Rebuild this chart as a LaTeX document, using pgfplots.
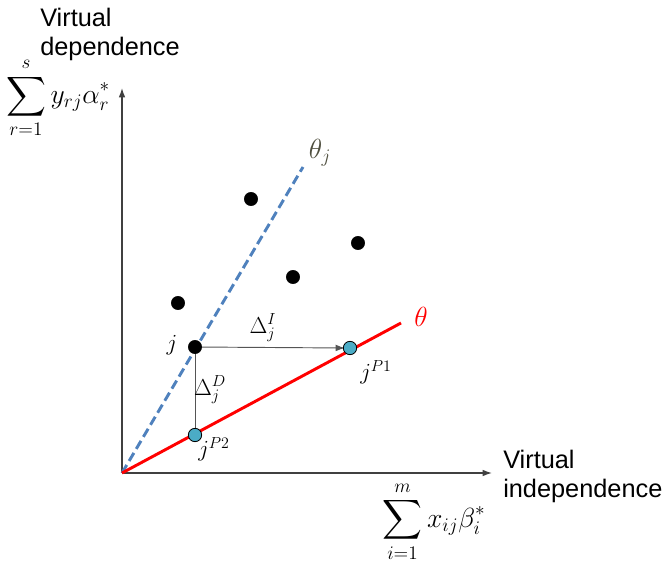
\documentclass[border=0pt]{standalone}
\usepackage{amsmath}
\usepackage{exscale}
\usepackage{pgfplots}
\pgfplotsset{compat=1.18}
\usepackage{fontspec}
\setmainfont{Liberation Sans}
\usetikzlibrary{arrows.meta}
\definecolor{cyanpt}{HTML}{4BACC6}
\definecolor{bluedash}{HTML}{4F81BD}
\definecolor{olive}{HTML}{4F4F3F}
\definecolor{axgray}{HTML}{404040}
\definecolor{lngray}{HTML}{555555}
\begin{document}
\begin{tikzpicture}
\begin{axis}[
  x=0.75pt, y=0.75pt, xmin=0, xmax=668, ymin=0, ymax=556, y dir=reverse,
  hide axis, clip=false, scale only axis,
]
\path (rel axis cs:0,0) rectangle (rel axis cs:1,1);
% axes
\addplot[axgray, line width=1pt, -{Latex[length=7pt,width=5pt]}] coordinates {(122,473) (122,88)};
\addplot[axgray, line width=1pt, -{Latex[length=7pt,width=5pt]}] coordinates {(122,473) (492,473)};
% frontier lines
\addplot[bluedash, line width=2.2pt, dash pattern=on 7pt off 3.5pt] coordinates {(122,473) (303,167)};
\addplot[red, line width=2.2pt] coordinates {(122,473) (401,323)};
% projections
\addplot[lngray, line width=0.7pt, -{Latex[length=7pt,width=5pt]}] coordinates {(195,347) (345,348)};
\addplot[lngray, line width=0.7pt] coordinates {(195,347) (195,435)};
% black DMUs
\addplot[only marks, mark=*, mark size=5pt, black] coordinates {(178,303) (251,199) (293,277) (358,243) (195,347)};
% projected points
\addplot[only marks, mark=*, mark size=5pt, draw=black, fill=cyanpt, line width=0.6pt] coordinates {(350,348) (195,435)};
% labels
\node[anchor=center, font=\fontsize{20}{22}\selectfont, text=olive] at (axis cs:320,153) {$\theta_j$};
\node[anchor=center, font=\fontsize{20}{22}\selectfont, text=red] at (axis cs:421,317) {$\theta$};
\node[anchor=center, font=\fontsize{17}{20}\selectfont] at (axis cs:172,345) {$j$};
\node[anchor=center, font=\fontsize{17}{20}\selectfont] at (axis cs:263,328) {$\Delta_j^{I}$};
\node[anchor=center, font=\fontsize{17}{20}\selectfont] at (axis cs:210,390) {$\Delta_j^{D}$};
\node[anchor=center, font=\fontsize{17}{20}\selectfont] at (axis cs:376,372) {$j^{P1}$};
\node[anchor=center, font=\fontsize{17}{20}\selectfont] at (axis cs:214,449) {$j^{P2}$};
\node[anchor=north west, align=left, font=\fontsize{19}{22}\selectfont, inner sep=0pt] at (axis cs:40,8) {Virtual\\dependence};
\node[anchor=north west, align=left, font=\fontsize{19}{22}\selectfont, inner sep=0pt] at (axis cs:503,450) {Virtual\\independence};
\node[anchor=center, font=\fontsize{20}{24}\selectfont, inner sep=0pt] at (axis cs:58,98) {$\displaystyle\sum_{r=1}^{s} y_{rj}\alpha_r^{*}$};
\node[anchor=center, font=\fontsize{20}{24}\selectfont, inner sep=0pt] at (axis cs:434,522) {$\displaystyle\sum_{i=1}^{m} x_{ij}\beta_i^{*}$};
\end{axis}
\end{tikzpicture}
\end{document}
